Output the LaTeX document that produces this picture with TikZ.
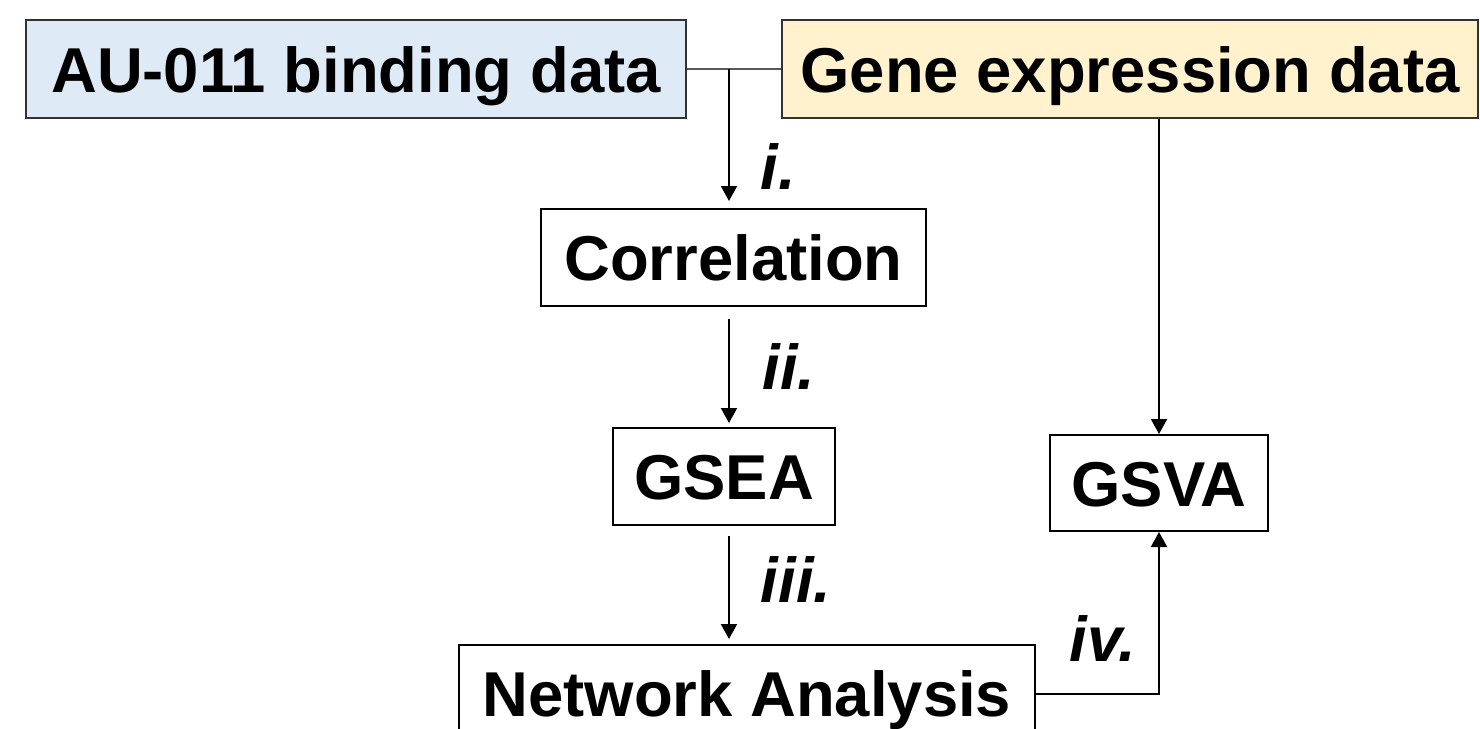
\documentclass[tikz,border=0pt]{standalone}
\usepackage{fontspec}
\setmainfont{Liberation Sans}
\usetikzlibrary{arrows.meta}
\definecolor{bluefill}{RGB}{222,234,246}
\definecolor{yellowfill}{RGB}{255,242,204}
\definecolor{topborder}{RGB}{50,50,50}
\definecolor{linkgray}{RGB}{90,90,90}
\begin{document}
\begin{tikzpicture}[x=0.5pt,y=-0.5pt,
  box/.style={draw=black,line width=1pt,inner sep=0pt,font=\fontsize{31.7}{38}\selectfont\bfseries,text height=23pt,text depth=0pt},
  topbox/.style={box,draw=topborder},
  lab/.style={font=\fontsize{31.7}{38}\selectfont\bfseries\itshape,inner sep=0pt},
  arr/.style={line width=1pt,-{Triangle[width=8pt,length=7.5pt]}}]
\useasboundingbox (0,0) rectangle (1480,729);
\clip (0,0) rectangle (1480,729);
\node[topbox,fill=bluefill,minimum width=330pt,minimum height=49pt] (au) at (356,69) {AU-011 binding data};
\node[topbox,fill=yellowfill,minimum width=348pt,minimum height=49pt] (ge) at (1130,69) {Gene expression data};
\node[box,minimum width=192.5pt,minimum height=48.5pt] (corr) at (733.5,257.5) {Correlation};
\node[box,minimum width=111pt,minimum height=48.5pt] (gsea) at (724,476.5) {GSEA};
\node[box,minimum width=109pt,minimum height=48pt] (gsva) at (1159,483) {GSVA};
\node[box,minimum width=288pt,minimum height=48.5pt] (net) at (747,693.5) {Network Analysis};
\coordinate (j) at (729,69);
\draw[linkgray,line width=1pt] (au.east) -- (ge.west);
\draw[arr,shorten >=3.5pt] (j) -- (j |- corr.north);
\draw[arr,shorten <=6pt,shorten >=2pt] (j |- corr.south) -- (j |- gsea.north);
\draw[arr,shorten <=5pt,shorten >=2.5pt] (j |- gsea.south) -- (j |- net.north);
\draw[arr] (gsva.north |- ge.south) -- (gsva.north);
\draw[arr] (net.east) -| (gsva.south);
\node[lab] (li) at (778,167) {i.};
\node[lab] (lii) at (789,367) {ii.};
\node[lab] (liii) at (796,580) {iii.};
\node[lab] (liv) at (1103,639) {iv.};
\end{tikzpicture}
\end{document}
